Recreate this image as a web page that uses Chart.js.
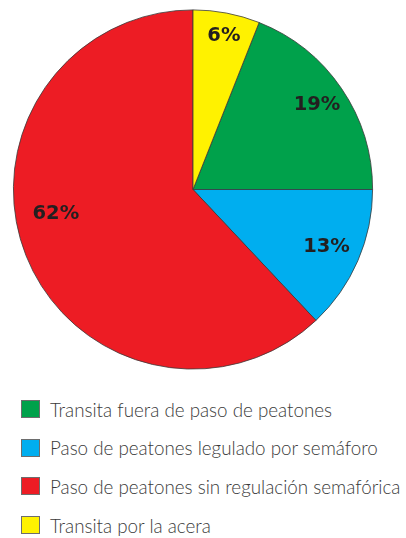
<!DOCTYPE html>
<html>
<head>
<meta charset="utf-8">
<script src="https://cdn.jsdelivr.net/npm/chart.js@4.4.1/dist/chart.umd.min.js"></script>
<style>
body{margin:0;background:#fff;width:406px;height:538px;overflow:hidden}
#wrap{position:relative;width:406px;height:380px}
#legend{list-style:none;margin:0;padding:0;margin-top:10px}
#legend li{height:38.6px;display:flex;align-items:center;font-family:'Lato',sans-serif;font-weight:300;font-size:18.8px;color:#3a3a3a;white-space:nowrap}
#legend span.box{display:inline-block;flex:none;width:19px;height:18px;margin-left:21px;margin-right:10px;box-sizing:border-box;border:1px solid #6d6d6d}
</style>
</head>
<body>
<div id="wrap"><canvas id="myChart" width="406" height="380"></canvas></div>
<ul id="legend"></ul>
<script>
var labels=['Transita fuera de paso de peatones','Paso de peatones legulado por semáforo','Paso de peatones sin regulación semafórica','Transita por la acera']
var values=[19,13,62,6]
var colors=['#00a14b','#00aeef','#ed1c24','#fff200']

// radial factor, angle shift (deg) for each slice label
var labelPlace=[[0.835,0],[0.81,0],[0.776,11.3],[0.87,0.6]]

var pctLabels={
    id:'pctLabels',
    afterDatasetsDraw:function(chart){
        var ctx=chart.ctx
        var meta=chart.getDatasetMeta(0)
        ctx.save()
        ctx.font='bold 19.5px "DejaVu Sans"'
        ctx.fillStyle='#231f20'
        ctx.textAlign='center'
        ctx.textBaseline='middle'
        meta.data.forEach(function(arc,i){
            var p=arc.getProps(['x','y','startAngle','endAngle','outerRadius'],true)
            var a=(p.startAngle+p.endAngle)/2+labelPlace[i][1]*Math.PI/180
            var r=p.outerRadius*labelPlace[i][0]
            ctx.fillText(values[i]+'%',p.x+Math.cos(a)*r,p.y+Math.sin(a)*r)
        })
        ctx.restore()
    }
}

var myChart=document.getElementById('myChart').getContext('2d')
var chart=new Chart(myChart,{
    type:'pie',
    data:{
        labels:labels,
        datasets:[{
            data:values,
            backgroundColor:colors,
            borderColor:'#3a3a3a',
            borderWidth:0.8
        }]
    },
    options:{
        responsive:false,
        animation:false,
        rotation:21.6,
        layout:{padding:{left:13,right:33,top:9.5,bottom:10.5}},
        plugins:{
            legend:{display:false},
            tooltip:{enabled:false}
        }
    },
    plugins:[pctLabels]
})

var legend=document.getElementById('legend')
for(var i=0;i<labels.length;i++){
    var li=document.createElement('li')
    var box=document.createElement('span')
    box.className='box'
    box.style.background=colors[i]
    li.appendChild(box)
    li.appendChild(document.createTextNode(labels[i]))
    legend.appendChild(li)
}
</script>
</body>
</html>
